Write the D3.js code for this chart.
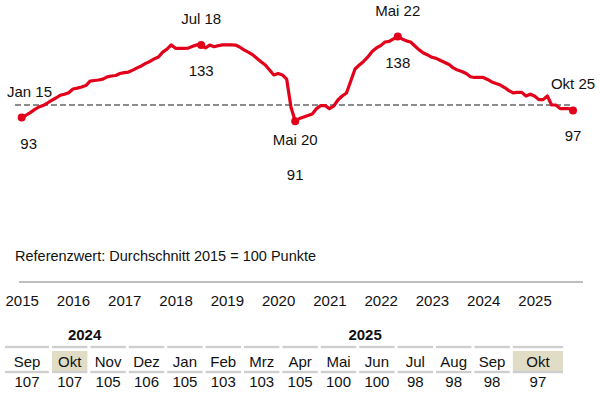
<!DOCTYPE html>
<html>
<head>
<meta charset="utf-8">
<script src="https://cdn.jsdelivr.net/npm/d3@7"></script>
<style>
  body { margin: 0; background: #fff; }
  svg { display: block; font-family: "Liberation Sans", Arial, Helvetica, sans-serif; }
</style>
</head>
<body>
<svg id="chart" width="600" height="399"></svg>
<script>
// monthly index, Jan 2015 .. Okt 2025 (2015 = 100)
const startYear = 2015;
const monthNames = ['Jan','Feb','Mrz','Apr','Mai','Jun','Jul','Aug','Sep','Okt','Nov','Dez'];
const indexValues = [
  93, 94.3, 95.8, 97.4, 98.9, 99.7, 101.1, 102.6, 103.9, 105.4, 106, 106.8,            // 2015
  108.9, 109.4, 110, 110.8, 113.3, 113.6, 113.9, 114.4, 115.6, 116.1, 116.4, 117.5,    // 2016
  118, 118.3, 119.4, 120.6, 121.7, 123.1, 124.2, 125.6, 126.7, 129.4, 131, 133.4,      // 2017
  131.5, 131.5, 131.5, 131.6, 132.6, 133.4, 133.4, 131.7, 133.3, 132.4, 133, 133.4,    // 2018
  133.4, 133.4, 133.3, 132.2, 130.6, 129.4, 128, 126, 124, 122.2, 119.4, 116.7,        // 2019
  117.5, 116.7, 114.4, 98.9, 91, 92.5, 93.3, 94.2, 95, 98, 99.7, 99.7,                 // 2020
  98, 99.4, 102.8, 105, 106.7, 113.3, 120, 122.2, 124.2, 126.7, 129.7, 131.7,          // 2021
  133, 135, 135.3, 136.7, 138, 136.7, 135.6, 135, 132.8, 130.6, 128.9, 127.8,          // 2022
  126.5, 125.9, 124.7, 123.6, 122.5, 120.6, 119.4, 118.6, 117.5, 115.7, 115.3, 115.3,  // 2023
  115.3, 114.2, 112.8, 111.9, 111.1, 109.7, 108, 106.7, 107, 107, 105, 106,            // 2024
  105, 103, 103, 105, 100, 100, 98, 98, 98, 97                                         // 2025
];
const refValue = 100;
const refText = 'Referenzwert: Durchschnitt 2015 = 100 Punkte';
// highlighted points (month index) and where their labels go
const markIdx = [0, 42, 64, 88, 129];
const markSide = ['above', 'above', 'below', 'above', 'above'];
const yearTicks = d3.range(2015, 2026);
const tableCount = 14;

const red = '#e2001a';
const svg = d3.select('#chart');

const monthLabel = i => monthNames[i % 12];
const yearOf = i => startYear + Math.floor(i / 12);
const shortLabel = i => monthLabel(i) + ' ' + String(yearOf(i)).slice(2);

const x = d3.scaleLinear().domain([0, indexValues.length - 1]).range([21.7, 573]);
const y = d3.scaleLinear().domain([91, 138]).range([121.2, 36.6]);

// reference line
svg.append('line')
  .attr('x1', 15).attr('x2', 573)
  .attr('y1', y(refValue)).attr('y2', y(refValue))
  .attr('stroke', '#8c8c8c').attr('stroke-width', 2)
  .attr('stroke-dasharray', '6,3');

// main line
const line = d3.line().x((d, i) => x(i)).y(d => y(d));
svg.append('path')
  .datum(indexValues)
  .attr('d', line)
  .attr('fill', 'none')
  .attr('stroke', red)
  .attr('stroke-width', 3.2)
  .attr('stroke-linejoin', 'round');

// marked points with month label and value
const marks = svg.append('g');
markIdx.forEach((idx, k) => {
  const cx = x(idx), cy = y(indexValues[idx]);
  marks.append('circle').attr('cx', cx).attr('cy', cy).attr('r', 4).attr('fill', red);
  const above = markSide[k] === 'above';
  const name = marks.append('text')
    .attr('y', above ? cy - 21 : cy + 24)
    .attr('font-size', 15).attr('text-anchor', 'middle').attr('fill', '#111')
    .text(shortLabel(idx));
  // keep the label inside the left edge
  const w = name.node().getComputedTextLength();
  name.attr('x', Math.max(cx, 7 + w / 2));
  marks.append('text')
    .attr('x', k === 0 ? cx + 7 : cx)
    .attr('y', above ? cy + 31 : cy + 59)
    .attr('font-size', 15).attr('text-anchor', 'middle').attr('fill', '#111')
    .text(Math.round(indexValues[idx]));
});

// note
svg.append('text').attr('x', 15).attr('y', 261).attr('font-size', 14.5)
  .attr('fill', '#111').text(refText);

// time axis
svg.append('line').attr('x1', 19).attr('x2', 583).attr('y1', 282).attr('y2', 282)
  .attr('stroke', '#a8a8a8').attr('stroke-width', 1.3);

const axis = svg.append('g').attr('transform', 'translate(0,282)')
  .call(d3.axisBottom(x)
    .tickValues(yearTicks.map(yr => (yr - startYear) * 12))
    .tickFormat(i => yearOf(i))
    .tickSize(0).tickPadding(13));
axis.select('.domain').remove();
axis.selectAll('text').attr('font-size', 15).attr('fill', '#111')
  .attr('font-family', '"Liberation Sans", Arial, sans-serif');

// table of the last months
const first = indexValues.length - tableCount;
const rows = d3.range(tableCount).map(k => ({
  idx: first + k,
  month: monthLabel(first + k),
  year: yearOf(first + k),
  value: Math.round(indexValues[first + k])
}));
const col = d3.scaleBand().domain(d3.range(tableCount)).range([13.6, 548.2]).paddingInner(0.078);
rows.forEach((r, k) => {
  r.x0 = k === 0 ? 5 : col(k);
  r.x1 = k === tableCount - 1 ? 563 : col(k) + col.bandwidth();
  r.cx = (r.x0 + r.x1) / 2;
});
const lastMonth = monthLabel(indexValues.length - 1);
const table = svg.append('g');

table.selectAll('rect.hl')
  .data(rows.filter(r => r.month === lastMonth))
  .join('rect').attr('class', 'hl')
  .attr('x', r => r.x0).attr('width', r => r.x1 - r.x0)
  .attr('y', 351).attr('height', 20)
  .attr('fill', '#e0dcc6');

[347, 372].forEach(ly => {
  table.selectAll(null).data(rows).join('rect')
    .attr('x', r => r.x0).attr('width', r => r.x1 - r.x0)
    .attr('y', ly - 1.2).attr('height', 2.4)
    .attr('fill', '#cfcfcf');
});

table.selectAll(null).data(rows).join('text')
  .attr('x', r => r.cx).attr('y', 367).attr('text-anchor', 'middle')
  .attr('font-size', 15).attr('fill', '#111').text(r => r.month);

table.selectAll(null).data(rows).join('text')
  .attr('x', r => r.cx).attr('y', 387).attr('text-anchor', 'middle')
  .attr('font-size', 15).attr('fill', '#111').text(r => r.value);

const years = d3.groups(rows, r => r.year);
table.selectAll(null).data(years).join('text')
  .attr('x', ([, rs]) => (rs[0].x0 + rs[rs.length - 1].x1) / 2)
  .attr('y', 339.5).attr('text-anchor', 'middle')
  .attr('font-size', 15).attr('font-weight', 'bold').attr('fill', '#111')
  .text(([yr]) => yr);
</script>
</body>
</html>
